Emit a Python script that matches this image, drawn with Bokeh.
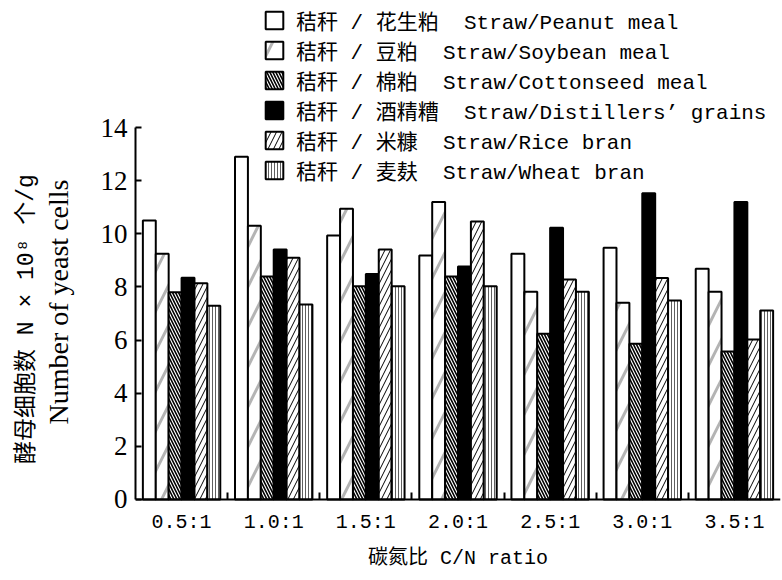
from bokeh.plotting import figure
from bokeh.models import Range1d, FixedTicker, Legend, LegendItem, LinearAxis
from bokeh.embed import file_html
from bokeh.resources import INLINE

# ---- data ----
ratios = ["0.5:1", "1.0:1", "1.5:1", "2.0:1", "2.5:1", "3.0:1", "3.5:1"]
peanut = [10.5, 12.9, 9.94, 9.18, 9.25, 9.47, 8.68]
soybean = [9.25, 10.3, 10.94, 11.2, 7.82, 7.4, 7.82]
cottonseed = [7.8, 8.39, 8.03, 8.39, 6.24, 5.86, 5.57]
distillers = [8.35, 9.41, 8.49, 8.77, 10.23, 11.53, 11.2]
rice_bran = [8.14, 9.1, 9.41, 10.46, 8.28, 8.34, 6.02]
wheat_bran = [7.29, 7.34, 8.03, 8.03, 7.82, 7.49, 7.11]
series_names = [
    "秸秆 / 花生粕  Straw/Peanut meal",
    "秸秆 / 豆粕  Straw/Soybean meal",
    "秸秆 / 棉粕  Straw/Cottonseed meal",
    "秸秆 / 酒精糟  Straw/Distillers’ grains",
    "秸秆 / 米糠  Straw/Rice bran",
    "秸秆 / 麦麸  Straw/Wheat bran",
]
y_ticks = [0, 2, 4, 6, 8, 10, 12, 14]
x_title = "碳氮比 C/N ratio"
y_title_cn = "酵母细胞数 N × 10⁸ 个/g"
y_title_en = "Number of yeast cells"

series = [peanut, soybean, cottonseed, distillers, rice_bran, wheat_bran]
styles = [
    dict(fill_color="white"),
    dict(fill_color="white", hatch_pattern="/", hatch_color="#b4b4b4", hatch_weight=3, hatch_scale=40),
    dict(fill_color="white", hatch_pattern="\\", hatch_color="black", hatch_weight=1.6, hatch_scale=6),
    dict(fill_color="black"),
    dict(fill_color="white", hatch_pattern="/", hatch_color="black", hatch_weight=1, hatch_scale=11),
    dict(fill_color="white", hatch_pattern="|", hatch_color="#606060", hatch_weight=1, hatch_scale=3),
]

MONO = "'Liberation Mono', 'Noto Sans CJK SC'"
MONO_ONLY = "'Liberation Mono'"
SERIF = "'Liberation Serif'"
NBSP = "\u00a0"

p = figure(width=782, height=580, output_backend="svg", toolbar_location=None,
           x_range=Range1d(0, len(ratios)), y_range=Range1d(-3.049, 18.705),
           min_border_left=135, min_border_right=2, min_border_top=2, min_border_bottom=0)
p.outline_line_color = None
p.xgrid.visible = False
p.ygrid.visible = False
p.background_fill_color = "white"
p.border_fill_color = "white"

bw = 0.14
centers = [i + 0.5 for i in range(len(ratios))]
items = []
for k, (vals, st) in enumerate(zip(series, styles)):
    xs = [c + (k - 2.5) * bw for c in centers]
    r = p.vbar(x=xs, top=vals, width=bw, bottom=0, line_color="black", line_width=2, **st)
    items.append(LegendItem(label=series_names[k], renderers=[r]))

# x axis drawn at y = 0 inside the frame
xa = p.xaxis[0]
xa.fixed_location = 0
xa.ticker = FixedTicker(ticks=centers, minor_ticks=[i for i in range(1, len(ratios))])
xa.major_label_overrides = {c: lab for c, lab in zip(centers, ratios)}
xa.major_tick_in = 0
xa.major_tick_out = 0
xa.minor_tick_in = 7
xa.minor_tick_out = 0
xa.minor_tick_line_width = 2
xa.minor_tick_line_color = "black"
xa.axis_line_width = 2
xa.axis_line_color = "black"
xa.major_label_text_font = MONO_ONLY
xa.major_label_text_font_size = "20px"
xa.major_label_text_color = "black"
xa.major_label_standoff = 12
xa.axis_label = x_title
xa.axis_label_text_font = MONO
xa.axis_label_text_font_size = "20px"
xa.axis_label_text_font_style = "normal"
xa.axis_label_text_color = "black"
xa.axis_label_standoff = 9

# y axis (inner, with ticks and English title)
ya = p.yaxis[0]
ya.ticker = FixedTicker(ticks=y_ticks, minor_ticks=[])
ya.bounds = (0, 14)
ya.major_tick_in = 6
ya.major_tick_out = 0
ya.major_tick_line_width = 2
ya.axis_line_width = 2
ya.axis_line_color = "black"
ya.major_label_text_font = SERIF
ya.major_label_text_font_size = "27px"
ya.major_label_text_color = "black"
ya.major_label_standoff = 8
ya.axis_label = y_title_en + NBSP * 3
ya.axis_label_text_font = SERIF
ya.axis_label_text_font_size = "28px"
ya.axis_label_text_font_style = "normal"
ya.axis_label_text_color = "black"
ya.axis_label_standoff = 24

# outer invisible axis carrying the Chinese title line
ya2 = LinearAxis(ticker=FixedTicker(ticks=[], minor_ticks=[]), bounds=(0, 14),
                 axis_line_color=None, major_tick_line_color=None, minor_tick_line_color=None,
                 axis_label=y_title_cn + NBSP * 4, axis_label_text_font=MONO,
                 axis_label_text_font_size="23px", axis_label_text_font_style="normal",
                 axis_label_text_color="black", axis_label_standoff=0)
p.add_layout(ya2, "left")

legend = Legend(items=items, location=(128, 395), orientation="vertical",
                label_text_font=MONO, label_text_font_size="21px", label_text_color="black",
                glyph_width=22, glyph_height=22, label_standoff=11, label_height=20,
                spacing=0, padding=0, margin=0,
                border_line_color=None, background_fill_alpha=0)
p.add_layout(legend, "center")

open("out.html", "w").write(file_html(p, INLINE))
